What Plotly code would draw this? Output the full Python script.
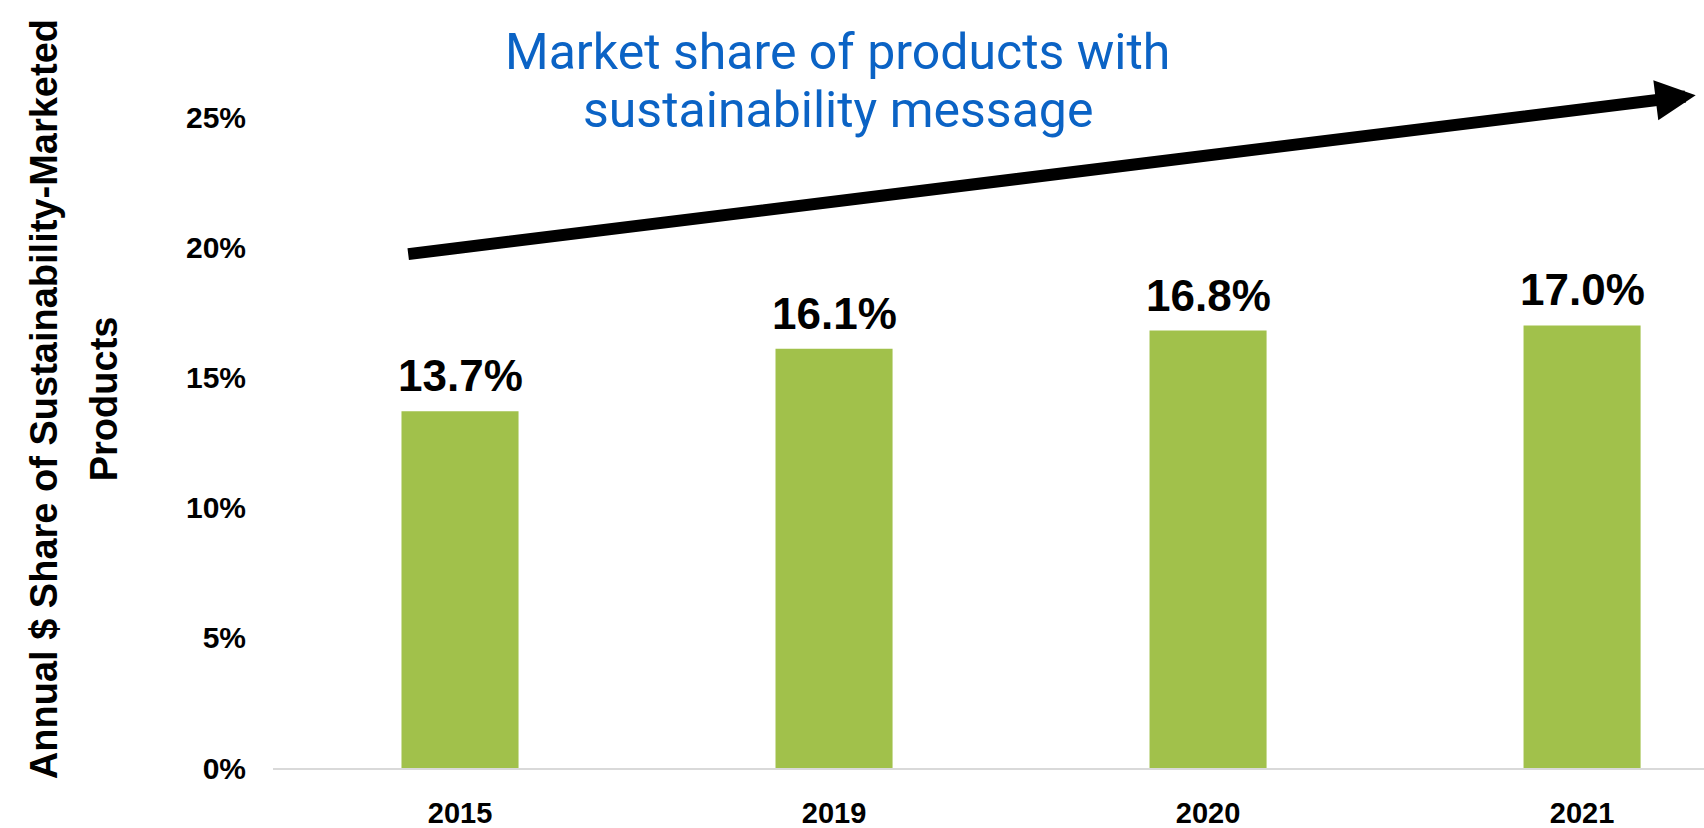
import plotly.graph_objects as go

years = ["2015", "2019", "2020", "2021"]
share = [0.137, 0.161, 0.168, 0.170]
y_ticks = [0, 0.05, 0.10, 0.15, 0.20, 0.25]
y_title_lines = ["Annual $ Share of Sustainability-Marketed", "Products"]
headline_lines = ["Market share of products with", "sustainability message"]

BAR_COLOR = "#A1C14B"
BLUE = "#0B63C5"
FONT = "Liberation Sans, Arial, sans-serif"

fig = go.Figure()
fig.add_trace(go.Bar(
    x=years, y=share,
    marker=dict(color=BAR_COLOR, line=dict(width=0)),
    hoverinfo="skip",
))

annotations = []
# data labels above bars (x given as category index)
for i, v in enumerate(share):
    annotations.append(dict(
        x=i, y=v, xref="x", yref="y",
        text=f"{v*100:.1f}%", showarrow=False,
        yanchor="bottom", xanchor="center", yshift=9,
        font=dict(family=FONT, size=44, color="black", weight="bold"),
    ))

# y axis title (rotated, two lines)
for txt, xp in zip(y_title_lines, [-0.1600, -0.1180]):
    annotations.append(dict(
        x=xp, y=0.506, xref="paper", yref="paper",
        text=txt, showarrow=False, textangle=-90,
        xanchor="center", yanchor="middle",
        font=dict(family=FONT, size=38, color="black", weight="bold"),
    ))

# headline text
for txt, yp in zip(headline_lines, [0.982, 0.9027]):
    annotations.append(dict(
        x=0.3948, y=yp, xref="paper", yref="paper",
        text=txt, showarrow=False, xanchor="center", yanchor="middle",
        font=dict(family="Roboto, sans-serif", size=50, color=BLUE),
    ))

# trend arrow
annotations.append(dict(
    x=0.9942, y=0.9228, xref="paper", yref="paper",
    ax=-1289, ay=159, axref="pixel", ayref="pixel",
    text="", showarrow=True, arrowhead=2, arrowsize=0.67,
    arrowwidth=12, arrowcolor="black",
))

fig.update_layout(
    width=1704, height=828,
    margin=dict(l=273, r=0, t=39, b=60),
    plot_bgcolor="white", paper_bgcolor="white",
    showlegend=False,
    bargap=0.687,
    annotations=annotations,
    xaxis=dict(
        type="category", range=[-0.5, 3.326],
        showline=True, linecolor="#D9D9D9", linewidth=2,
        ticks="", showgrid=False, zeroline=False,
        tickfont=dict(family=FONT, size=29, color="black", weight="bold"),
        ticklabelstandoff=18,
    ),
    yaxis=dict(
        range=[0, 0.28], tickvals=y_ticks, tickformat=".0%",
        showline=False, showgrid=False, zeroline=False, ticks="",
        tickfont=dict(family=FONT, size=30, color="black", weight="bold"),
        ticklabelstandoff=26,
    ),
)

fig.write_html("out.html")
